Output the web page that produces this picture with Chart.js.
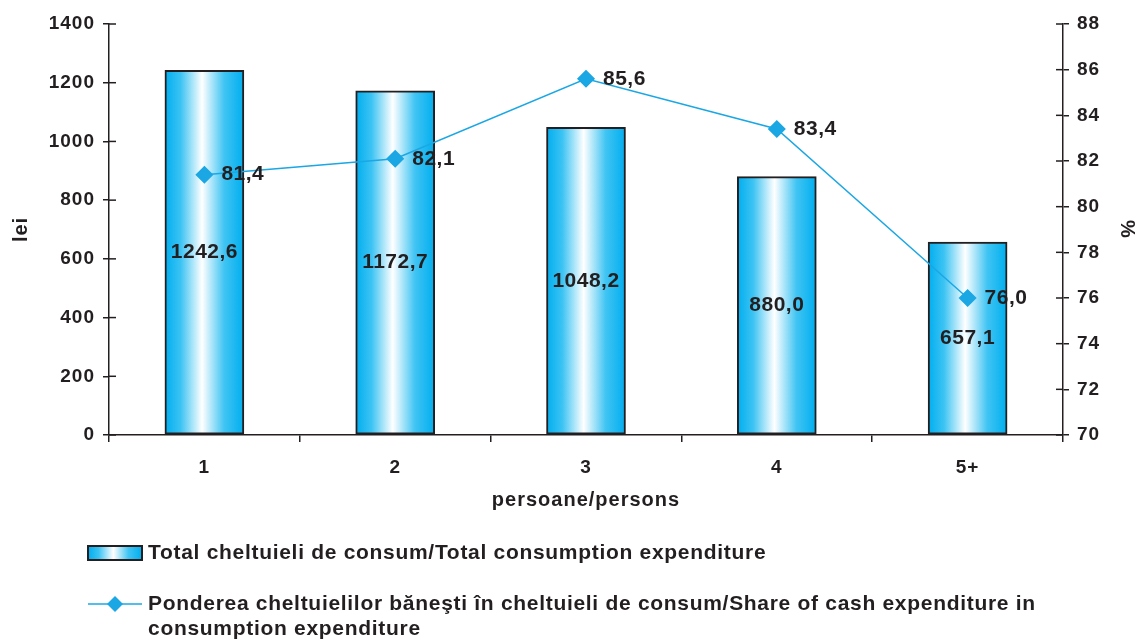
<!DOCTYPE html>
<html>
<head>
<meta charset="utf-8">
<script src="https://cdn.jsdelivr.net/npm/chart.js@4.4.0/dist/chart.umd.min.js"></script>
<style>
  html, body { margin: 0; padding: 0; background: #fff; }
  #wrap { width: 1139px; height: 640px; position: relative; }
</style>
</head>
<body>
<div id="wrap"><canvas id="grafic"></canvas></div>
<script>
const categorii = ['1', '2', '3', '4', '5+'];
const cheltuieli = [1242.6, 1172.7, 1048.2, 880.0, 657.1];
const ponderea = [81.4, 82.1, 85.6, 83.4, 76.0];
const etichetaBare = 'Total cheltuieli de consum/Total consumption expenditure';
const etichetaLinie = ['Ponderea cheltuielilor băneşti în cheltuieli de consum/Share of cash expenditure in', 'consumption expenditure'];

const FONT = 'Liberation Sans, Arial, sans-serif';
const CYAN = '#00b4ef';
const LINIE = '#1aa7e4';
const TEXT = '#231f20';
const latimeBara = 79;

function gradientBara(ctx, x0, x1) {
    const g = ctx.createLinearGradient(x0, 0, x1, 0);
    g.addColorStop(0, '#00aeef');
    g.addColorStop(0.2, '#3cc3f3');
    g.addColorStop(0.47, '#ffffff');
    g.addColorStop(0.75, '#40c4f3');
    g.addColorStop(1, '#00aeef');
    return g;
}

function formatRo(v) {
    return v.toFixed(1).replace('.', ',');
}

// etichete, tick-uri interioare si legenda
const pluginDesen = {
    id: 'pluginDesen',
    beforeDraw(chart) {
        chart.ctx.letterSpacing = '1px';
    },
    afterDatasetsDraw(chart) {
        const ctx = chart.ctx;
        const area = chart.chartArea;
        ctx.save();
        ctx.letterSpacing = '0.5px';
        ctx.fillStyle = TEXT;
        ctx.font = 'bold 21px ' + FONT;
        ctx.textBaseline = 'middle';

        // valori pe bare (dataset 1)
        ctx.textAlign = 'center';
        chart.getDatasetMeta(1).data.forEach((bar, i) => {
            const yMid = (bar.y + bar.base) / 2;
            ctx.fillText(formatRo(cheltuieli[i]), bar.x, yMid);
        });

        // valori pe linie (dataset 0)
        ctx.textAlign = 'left';
        chart.getDatasetMeta(0).data.forEach((pt, i) => {
            ctx.fillText(formatRo(ponderea[i]), pt.x + 17, pt.y);
        });

        // tick-uri spre interior pe axele y
        ctx.strokeStyle = TEXT;
        ctx.lineWidth = 1.5;
        const yS = chart.scales.y;
        const y1S = chart.scales.y1;
        yS.ticks.forEach(t => {
            const y = yS.getPixelForValue(t.value);
            ctx.beginPath(); ctx.moveTo(area.left, y); ctx.lineTo(area.left + 7, y); ctx.stroke();
        });
        y1S.ticks.forEach(t => {
            const y = y1S.getPixelForValue(t.value);
            ctx.beginPath(); ctx.moveTo(area.right, y); ctx.lineTo(area.right - 7, y); ctx.stroke();
        });

        // legenda
        ctx.letterSpacing = '0.7px';
        ctx.font = 'bold 21px ' + FONT;
        const lx0 = 88, lx1 = 142;
        ctx.fillStyle = gradientBara(ctx, lx0, lx1);
        ctx.fillRect(lx0, 546, lx1 - lx0, 14);
        ctx.strokeStyle = TEXT;
        ctx.lineWidth = 2;
        ctx.strokeRect(lx0, 546, lx1 - lx0, 14);
        ctx.fillStyle = TEXT;
        ctx.fillText(etichetaBare, 148, 553);

        ctx.strokeStyle = LINIE;
        ctx.lineWidth = 1.5;
        ctx.beginPath(); ctx.moveTo(lx0, 604); ctx.lineTo(lx1, 604); ctx.stroke();
        ctx.fillStyle = LINIE;
        ctx.beginPath();
        ctx.moveTo(115, 596); ctx.lineTo(123, 604); ctx.lineTo(115, 612); ctx.lineTo(107, 604);
        ctx.closePath(); ctx.fill();
        ctx.fillStyle = TEXT;
        ctx.fillText(etichetaLinie[0], 148, 604);
        ctx.fillText(etichetaLinie[1], 148, 629);
        ctx.restore();
    }
};

const fontTick = { family: FONT, size: 19, weight: 'bold' };
const fontTitlu = { family: FONT, size: 20, weight: 'bold' };

const ctx = document.getElementById('grafic').getContext('2d');
const grafic = new Chart(ctx, {
    type: 'bar',
    data: {
        labels: categorii,
        datasets: [{
            type: 'line',
            label: etichetaLinie.join(' '),
            data: ponderea,
            yAxisID: 'y1',
            borderColor: LINIE,
            borderWidth: 1.5,
            pointStyle: 'rectRot',
            pointRadius: 8,
            pointHoverRadius: 8,
            pointBackgroundColor: LINIE,
            pointBorderColor: LINIE,
            tension: 0,
            order: 0
        }, {
            type: 'bar',
            label: etichetaBare,
            data: cheltuieli,
            yAxisID: 'y',
            barThickness: latimeBara,
            borderColor: TEXT,
            borderWidth: 2,
            borderSkipped: false,
            backgroundColor: function (c) {
                const sx = c.chart.scales.x;
                if (!sx || !c.chart.chartArea) return CYAN;
                const x = sx.getPixelForValue(c.dataIndex);
                return gradientBara(c.chart.ctx, x - latimeBara / 2, x + latimeBara / 2);
            },
            order: 1
        }]
    },
    options: {
        responsive: true,
        maintainAspectRatio: false,
        animation: false,
        layout: { padding: { top: 24, left: 0, right: 0, bottom: 0 } },
        plugins: {
            legend: { display: false },
            tooltip: { enabled: false }
        },
        scales: {
            x: {
                offset: true,
                afterFit: s => { s.height = 205; },
                grid: {
                    display: true,
                    offset: true,
                    drawOnChartArea: false,
                    color: TEXT,
                    lineWidth: 1.5,
                    tickLength: 7
                },
                border: { display: true, color: TEXT, width: 1.5 },
                ticks: {
                    color: TEXT,
                    font: fontTick,
                    padding: 14
                },
                title: {
                    display: true,
                    text: 'persoane/persons',
                    color: TEXT,
                    font: fontTitlu,
                    padding: { top: 0, bottom: 128 }
                }
            },
            y: {
                position: 'left',
                min: 0,
                max: 1400,
                afterFit: s => { s.width = 109; },
                ticks: {
                    stepSize: 200,
                    color: TEXT,
                    font: fontTick,
                    padding: 8,
                    callback: v => String(v)
                },
                grid: {
                    display: true,
                    drawOnChartArea: false,
                    color: TEXT,
                    lineWidth: 1.5,
                    tickLength: 6
                },
                border: { display: true, color: TEXT, width: 1.5 },
                title: {
                    display: true,
                    text: 'lei',
                    color: TEXT,
                    font: fontTitlu,
                    padding: { top: 9, bottom: 0 }
                }
            },
            y1: {
                position: 'right',
                min: 70,
                max: 88,
                afterFit: s => { s.width = 76; },
                ticks: {
                    stepSize: 2,
                    color: TEXT,
                    font: fontTick,
                    padding: 8,
                    callback: v => String(v)
                },
                grid: {
                    display: true,
                    drawOnChartArea: false,
                    color: TEXT,
                    lineWidth: 1.5,
                    tickLength: 6
                },
                border: { display: true, color: TEXT, width: 1.5 },
                title: {
                    display: true,
                    text: '%',
                    color: TEXT,
                    font: fontTitlu,
                    padding: { top: 0, bottom: 0 }
                }
            }
        }
    },
    plugins: [pluginDesen]
});
</script>
</body>
</html>
